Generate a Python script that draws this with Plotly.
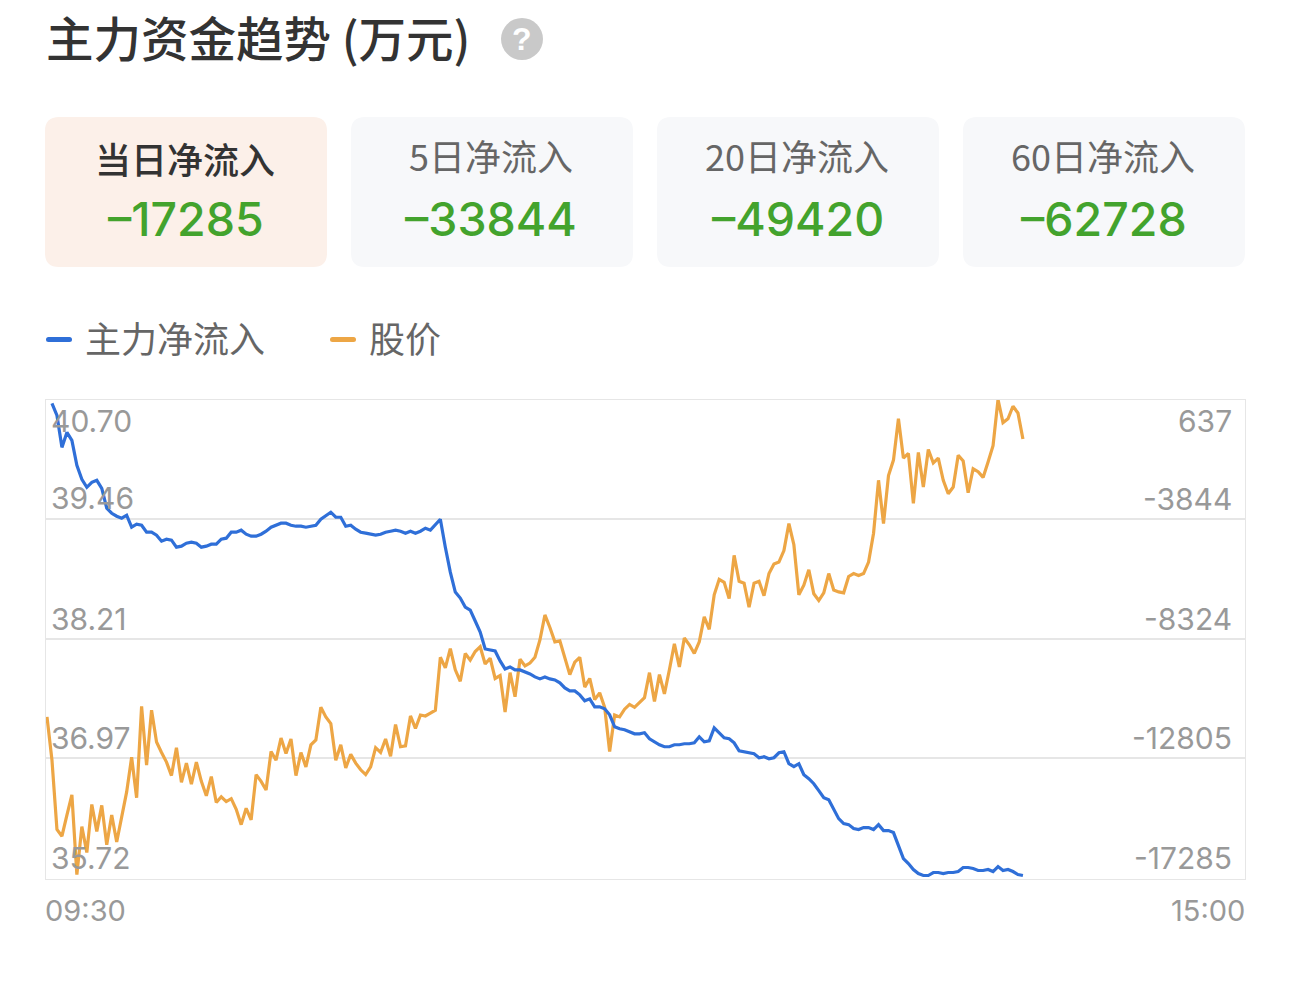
import plotly.graph_objects as go

TITLE = "主力资金趋势 (万元)"
CARD_LABELS = ["当日净流入", "5日净流入", "20日净流入", "60日净流入"]
CARD_VALUES = ["–17285", "–33844", "–49420", "–62728"]
SERIES_NAMES = ["主力净流入", "股价"]
TIME_LABELS = ["09:30", "15:00"]
PRICE_TICKS = [35.72, 36.97, 38.21, 39.46, 40.70]
PRICE_LABELS = ["35.72", "36.97", "38.21", "39.46", "40.70"]
FLOW_TICKS = [-17285, -12805, -8324, -3844, 637]
FLOW_LABELS = ["-17285", "-12805", "-8324", "-3844", "637"]

price = [
    37.40, 36.95, 36.23, 36.16, 36.38, 36.59, 35.76, 36.26, 35.99, 36.49,
    36.21, 36.48, 36.07, 36.38, 36.10, 36.36, 36.62, 36.98, 36.56, 37.51,
    36.90, 37.47, 37.14, 37.03, 36.93, 36.79, 37.08, 36.72, 36.92, 36.70,
    36.93, 36.73, 36.58, 36.78, 36.51, 36.57, 36.52, 36.55, 36.44, 36.28,
    36.45, 36.33, 36.80, 36.73, 36.64, 37.04, 36.95, 37.18, 37.02, 37.17,
    36.79, 37.03, 36.88, 37.11, 37.16, 37.50, 37.40, 37.33, 36.95, 37.11,
    36.87, 37.01, 36.92, 36.85, 36.80, 36.88, 37.08, 37.03, 37.17, 36.99,
    37.32, 37.09, 37.10, 37.41, 37.28, 37.42, 37.41, 37.44, 37.47, 38.02,
    37.91, 38.11, 37.89, 37.77, 38.06, 37.99, 38.08, 38.13, 37.95, 38.01,
    37.80, 37.83, 37.45, 37.86, 37.61, 38.00, 37.93, 37.96, 38.02, 38.20,
    38.46, 38.33, 38.18, 38.19, 38.01, 37.84, 37.97, 38.02, 37.71, 37.80,
    37.58, 37.65, 37.50, 37.04, 37.42, 37.40, 37.48, 37.53, 37.50, 37.55,
    37.60, 37.86, 37.56, 37.84, 37.64, 37.89, 38.16, 37.92, 38.22, 38.15,
    38.06, 38.18, 38.44, 38.31, 38.67, 38.83, 38.80, 38.63, 39.08, 38.81,
    38.79, 38.54, 38.79, 38.81, 38.66, 38.89, 38.99, 39.01, 39.13, 39.41,
    39.19, 38.67, 38.77, 38.93, 38.68, 38.61, 38.69, 38.89, 38.72, 38.70,
    38.69, 38.86, 38.89, 38.87, 38.89, 39.01, 39.31, 39.86, 39.41, 39.91,
    40.07, 40.50, 40.09, 40.14, 39.62, 40.15, 39.79, 40.18, 40.04, 40.09,
    39.86, 39.72, 39.79, 40.12, 40.06, 39.73, 39.98, 39.95, 39.89, 40.05,
    40.22, 40.70, 40.46, 40.50, 40.63, 40.56, 40.29,
]

net_inflow = [
    None, 489, 41, -1154, -594, -893, -1826, -2349, -2648, -2461,
    -2386, -2685, -3432, -3619, -3731, -3805, -3693, -4141, -4029, -4067,
    -4328, -4328, -4440, -4664, -4589, -4627, -4888, -4851, -4739, -4701,
    -4739, -4888, -4851, -4776, -4776, -4589, -4552, -4328, -4328, -4253,
    -4403, -4477, -4477, -4403, -4291, -4141, -4067, -3992, -3992, -4067,
    -4104, -4104, -4141, -4104, -4067, -3843, -3693, -3581, -3768, -3768,
    -4104, -4067, -4216, -4328, -4365, -4403, -4440, -4403, -4328, -4291,
    -4253, -4291, -4365, -4291, -4365, -4291, -4179, -4253, -4029, -3843,
    -4888, -5822, -6568, -6792, -7129, -7241, -7651, -8062, -8697, -8734,
    -8771, -9145, -9444, -9369, -9481, -9481, -9556, -9630, -9742, -9817,
    -9742, -9817, -9854, -9966, -10153, -10265, -10265, -10414, -10638, -10564,
    -10863, -10863, -10937, -11161, -11609, -11684, -11721, -11796, -11871, -11871,
    -11833, -12057, -12169, -12281, -12356, -12356, -12281, -12281, -12244, -12244,
    -12207, -11983, -12169, -12132, -11647, -11833, -12020, -12057, -12207, -12505,
    -12543, -12580, -12617, -12767, -12730, -12804, -12767, -12580, -12543, -12991,
    -13103, -12991, -13402, -13551, -13738, -13999, -14260, -14335, -14709, -15045,
    -15231, -15269, -15418, -15455, -15381, -15381, -15455, -15269, -15493, -15493,
    -15567, -16015, -16538, -16725, -16949, -17098, -17173, -17173, -17061, -17061,
    -17098, -17061, -17061, -17024, -16874, -16874, -16912, -16986, -16986, -16949,
    -17024, -16837, -16986, -16949, -17024, -17136, -17173,
]

W, H = 1290, 993
BLUE, ORANGE = "#2f6fd8", "#eda645"
GREEN = "#43a32d"
GRID = "#e6e6e6"
CJK = "Noto Sans CJK SC"
NUM = "Inter"
TICK = "Inter"


def fx(px):
    return px / W


def fy(py):
    return 1 - py / H


def rounded(x0, y0, x1, y1, r, fill):
    a, b, c, d = fx(x0), fx(x1), fy(y0), fy(y1)
    rx, ry = r / W, r / H
    path = (
        f"M{a + rx},{c} L{b - rx},{c} Q{b},{c} {b},{c - ry} "
        f"L{b},{d + ry} Q{b},{d} {b - rx},{d} "
        f"L{a + rx},{d} Q{a},{d} {a},{d + ry} "
        f"L{a},{c - ry} Q{a},{c} {a + rx},{c} Z"
    )
    return dict(type="path", xref="paper", yref="paper", path=path,
                fillcolor=fill, line=dict(width=0), layer="below")


def text(s, px, py, size, color, anchor="left", family=CJK, weight=400):
    return dict(text=s, x=fx(px), y=fy(py), xref="paper", yref="paper",
                xanchor=anchor, yanchor="middle", showarrow=False,
                font=dict(size=size, color=color, family=family, weight=weight))


idx = list(range(len(price)))
fig = go.Figure()
fig.add_trace(go.Scatter(x=idx, y=net_inflow, name=SERIES_NAMES[0], yaxis="y2", mode="lines",
                         line=dict(color=BLUE, width=3.2), connectgaps=False))
fig.add_trace(go.Scatter(x=idx, y=price, name=SERIES_NAMES[1], yaxis="y", mode="lines",
                         line=dict(color=ORANGE, width=3.2)))

shapes, ann = [], []
ann.append(text(TITLE, 44, 36, 47.5, "#333333", weight=500))
shapes.append(dict(type="circle", xref="paper", yref="paper", x0=fx(501), x1=fx(543),
                   y0=fy(60), y1=fy(18), fillcolor="#c9c9c9", line=dict(width=0), layer="below"))
ann.append(text("?", 522, 39, 32, "#ffffff", anchor="center", family="Liberation Sans", weight=700))

card_x = [45, 351, 657, 963]
for i, (lab, val, x0) in enumerate(zip(CARD_LABELS, CARD_VALUES, card_x)):
    active = i == 0
    shapes.append(rounded(x0, 117, x0 + 282, 267, 14, "#fcf0e9" if active else "#f7f8fa"))
    ann.append(text(lab, x0 + 140, 158.5 if active else 155, 36,
                    "#333333" if active else "#666666", anchor="center",
                    weight=500 if active else 400))
    ann.append(text(val, x0 + 140.5, 219, 46.5, GREEN, anchor="center", family=NUM, weight=500))

shapes.append(rounded(46, 337, 72, 342, 2.5, BLUE))
shapes.append(rounded(330, 337, 356, 342, 2.5, ORANGE))
ann.append(text(SERIES_NAMES[0], 82.5, 337, 36, "#666666"))
ann.append(text(SERIES_NAMES[1], 367, 337, 36, "#666666"))

for v, lab in zip(PRICE_TICKS, PRICE_LABELS):
    shift = -21 if v == PRICE_TICKS[-1] else 20.5
    ann.append(dict(text=lab, x=fx(49), xref="paper", y=v, yref="y", yshift=shift,
                    xanchor="left", yanchor="middle", showarrow=False,
                    font=dict(size=30, color="#999999", family=TICK)))
for v, lab in zip(FLOW_TICKS, FLOW_LABELS):
    shift = -21 if v == FLOW_TICKS[-1] else 20.5
    ann.append(dict(text=lab, x=fx(1234), xref="paper", y=v, yref="y2", yshift=shift,
                    xanchor="right", yanchor="middle", showarrow=False,
                    font=dict(size=30, color="#999999", family=TICK)))

ann.append(text(TIME_LABELS[0], 42.5, 910, 29, "#999999", family=TICK))
ann.append(text(TIME_LABELS[1], 1247, 910, 29, "#999999", anchor="right", family=TICK))

fig.update_layout(
    width=W, height=H, margin=dict(l=0, r=0, t=0, b=0),
    paper_bgcolor="#ffffff", plot_bgcolor="rgba(0,0,0,0)", showlegend=False,
    shapes=shapes, annotations=ann,
    xaxis=dict(domain=[fx(45.5), fx(1245)], range=[-0.3, 240.6], showgrid=False, zeroline=False,
               showticklabels=False, ticks="", showline=True, linecolor=GRID, linewidth=1, mirror=True),
    yaxis=dict(domain=[fy(878.5), fy(399.5)], range=[PRICE_TICKS[0], PRICE_TICKS[-1]],
               tickvals=PRICE_TICKS, showticklabels=False, ticks="", showgrid=True,
               gridcolor=GRID, gridwidth=1.5, zeroline=False,
               showline=True, linecolor=GRID, linewidth=1, mirror=True),
    yaxis2=dict(domain=[fy(878.5), fy(399.5)], range=[FLOW_TICKS[0], FLOW_TICKS[-1]], overlaying="y",
                side="right", tickvals=FLOW_TICKS, showticklabels=False, ticks="", showgrid=False,
                zeroline=False),
)

fig.write_html("out.html", config=dict(displayModeBar=False),
               post_script="document.body.style.margin='0';document.body.style.overflow='hidden';")
